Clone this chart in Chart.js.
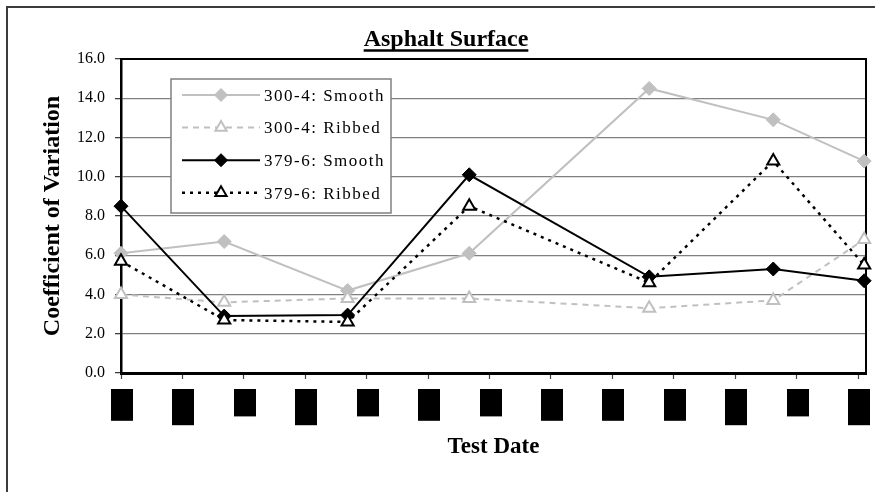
<!DOCTYPE html>
<html>
<head>
<meta charset="utf-8">
<script src="https://cdn.jsdelivr.net/npm/chart.js@4.4.1/dist/chart.umd.min.js"></script>
<style>
  html, body { margin: 0; padding: 0; background: #fff; }
  canvas { display: block; }
</style>
</head>
<body>
<canvas id="cvChart" width="875" height="492"></canvas>
<script>
// --- Values ---
// x is measured in axis intervals (one tick per interval, tick labels are redacted)
const testMonths = [0, 1.68, 3.69, 5.67, 8.60, 10.62, 12.10];
const smooth300 = [6.1, 6.7, 4.2, 6.1, 14.5, 12.9, 10.8];
const ribbed300 = [4.0, 3.6, 3.8, 3.8, 3.3, 3.7, 6.8];
const smooth379 = [8.5, 2.9, 2.95, 10.1, 4.9, 5.3, 4.7];
const ribbed379 = [5.7, 2.7, 2.6, 8.5, 4.6, 10.8, 5.5];
const seriesLabels = ['300-4: Smooth', '300-4: Ribbed', '379-6: Smooth', '379-6: Ribbed'];
// character count of each (blacked-out) date label under the x ticks
const xTickLabelLengths = [7, 8, 6, 8, 6, 7, 6, 7, 7, 7, 8, 6, 8];

const SERIF = "'Liberation Serif', 'Times New Roman', serif";
const GRAY = '#c0c0c0';

const toPoints = (ys) => ys.map((y, i) => ({ x: testMonths[i], y: y }));

// --- Plugins ---
const pageFrame = {
    id: 'pageFrame',
    beforeDraw(chart) {
        const { ctx, width, height } = chart;
        ctx.save();
        ctx.fillStyle = '#fff';
        ctx.fillRect(0, 0, width, height);
        ctx.strokeStyle = '#3c3c3c';
        ctx.lineWidth = 2;
        ctx.beginPath();
        ctx.moveTo(7, height);
        ctx.lineTo(7, 7);
        ctx.lineTo(width, 7);
        ctx.stroke();
        ctx.restore();
    }
};

const plotBox = {
    id: 'plotBox',
    beforeDatasetsDraw(chart) {
        const { ctx, chartArea: a } = chart;
        ctx.save();
        ctx.strokeStyle = '#000';
        ctx.lineWidth = 2;
        ctx.beginPath();
        ctx.moveTo(a.left, a.top);
        ctx.lineTo(a.right, a.top);
        ctx.lineTo(a.right, a.bottom);
        ctx.stroke();
        ctx.restore();
    }
};

const insetLegend = {
    id: 'insetLegend',
    afterDatasetsDraw(chart) {
        const { ctx } = chart;
        const box = { x: 171, y: 79, w: 220, h: 134 };
        const rowH = 32.6, sampleW = 78;
        ctx.save();
        ctx.fillStyle = '#fff';
        ctx.fillRect(box.x, box.y, box.w, box.h);
        ctx.strokeStyle = '#808080';
        ctx.lineWidth = 1.5;
        ctx.strokeRect(box.x, box.y, box.w, box.h);
        chart.data.datasets.forEach((ds, i) => {
            const cy = box.y + 16 + i * rowH;
            const x0 = box.x + 11, x1 = x0 + sampleW, mx = (x0 + x1) / 2;
            ctx.setLineDash(ds.borderDash || []);
            ctx.strokeStyle = ds.borderColor;
            ctx.lineWidth = ds.borderWidth;
            ctx.beginPath();
            ctx.moveTo(x0, cy);
            ctx.lineTo(x1, cy);
            ctx.stroke();
            ctx.setLineDash([]);
            ctx.fillStyle = ds.pointBackgroundColor;
            ctx.strokeStyle = ds.pointBorderColor;
            ctx.lineWidth = ds.pointBorderWidth;
            Chart.helpers.drawPoint(ctx, {
                pointStyle: ds.pointStyle, rotation: 0,
                radius: ds.pointRadius - 0.5, borderWidth: ds.pointBorderWidth
            }, mx, cy);
            ctx.fillStyle = '#000';
            ctx.font = `17px ${SERIF}`;
            ctx.letterSpacing = '1.5px';
            ctx.textAlign = 'left';
            ctx.textBaseline = 'alphabetic';
            ctx.fillText(ds.label, x1 + 4, cy + 5.7);
            ctx.letterSpacing = '0px';
        });
        ctx.restore();
    }
};

const redactedTicks = {
    id: 'redactedTicks',
    afterDraw(chart) {
        const { ctx } = chart;
        const xs = chart.scales.x;
        ctx.save();
        ctx.fillStyle = '#000';
        xs.ticks.forEach((t, i) => {
            const px = Math.round(xs.getPixelForTick(i));
            const h = (xTickLabelLengths[i] || 7) * 4.4 + 1;
            ctx.fillRect(px - 10, chart.chartArea.bottom + 16, 22, h);
        });
        ctx.restore();
    }
};

const underlinedTitle = {
    id: 'underlinedTitle',
    afterDraw(chart) {
        const { ctx } = chart;
        const text = 'Asphalt Surface';
        const cx = chart.width / 2 + 8.5;
        ctx.save();
        ctx.font = `bold 24px ${SERIF}`;
        ctx.fillStyle = '#000';
        ctx.textAlign = 'center';
        ctx.textBaseline = 'alphabetic';
        ctx.fillText(text, cx, 46);
        const w = ctx.measureText(text).width;
        ctx.strokeStyle = '#000';
        ctx.lineWidth = 2.5;
        ctx.beginPath();
        ctx.moveTo(cx - w / 2, 50.5);
        ctx.lineTo(cx + w / 2, 50.5);
        ctx.stroke();
        ctx.restore();
    }
};

// --- Chart ---
const ctx = document.getElementById('cvChart').getContext('2d');
new Chart(ctx, {
    type: 'line',
    data: {
        datasets: [
            {
                label: seriesLabels[0], data: toPoints(smooth300), order: 4,
                borderColor: GRAY, borderWidth: 2, borderDash: [],
                pointStyle: 'rectRot', pointRadius: 7, pointBorderWidth: 1,
                pointBackgroundColor: GRAY, pointBorderColor: GRAY
            },
            {
                label: seriesLabels[1], data: toPoints(ribbed300), order: 3,
                borderColor: GRAY, borderWidth: 2, borderDash: [6, 5],
                pointStyle: 'triangle', pointRadius: 7, pointBorderWidth: 2,
                pointBackgroundColor: '#fff', pointBorderColor: GRAY
            },
            {
                label: seriesLabels[2], data: toPoints(smooth379), order: 2,
                borderColor: '#000', borderWidth: 2, borderDash: [],
                pointStyle: 'rectRot', pointRadius: 7, pointBorderWidth: 1,
                pointBackgroundColor: '#000', pointBorderColor: '#000'
            },
            {
                label: seriesLabels[3], data: toPoints(ribbed379), order: 1,
                borderColor: '#000', borderWidth: 2.5, borderDash: [3, 5],
                pointStyle: 'triangle', pointRadius: 7, pointBorderWidth: 2,
                pointBackgroundColor: '#fff', pointBorderColor: '#000'
            }
        ]
    },
    options: {
        responsive: false,
        animation: false,
        devicePixelRatio: 1,
        layout: { padding: { top: 59, left: 0, right: 5, bottom: 0 } },
        elements: { line: { tension: 0, fill: false } },
        datasets: { line: { clip: false } },
        plugins: { legend: { display: false }, tooltip: { enabled: false } },
        scales: {
            x: {
                type: 'linear', min: 0, max: 12.13,
                ticks: { stepSize: 1, includeBounds: false, display: false },
                grid: { drawOnChartArea: false, drawTicks: true, tickLength: 6, tickColor: '#444', tickWidth: 1.2 },
                border: { display: true, color: '#000', width: 3 },
                title: {
                    display: true, text: 'Test Date', color: '#000',
                    font: { family: SERIF, size: 23, weight: 'bold' },
                    padding: { top: 0, bottom: 31 }
                },
                afterFit: (s) => { s.height = 119; }
            },
            y: {
                min: 0, max: 16,
                ticks: {
                    stepSize: 2, padding: 10, color: '#000',
                    font: { family: SERIF, size: 16 },
                    callback: (v) => v.toFixed(1)
                },
                grid: { color: '#808080', lineWidth: 1.3, tickLength: 6, tickColor: '#333', tickWidth: 1.2 },
                border: { display: true, color: '#000', width: 2.5 },
                title: {
                    display: true, text: 'Coefficient of Variation', color: '#000',
                    font: { family: SERIF, size: 24, weight: 'bold' },
                    padding: { top: 38, bottom: 0 }
                },
                afterFit: (s) => { s.width = 121; }
            }
        }
    },
    plugins: [pageFrame, plotBox, insetLegend, redactedTicks, underlinedTitle]
});
</script>
</body>
</html>
